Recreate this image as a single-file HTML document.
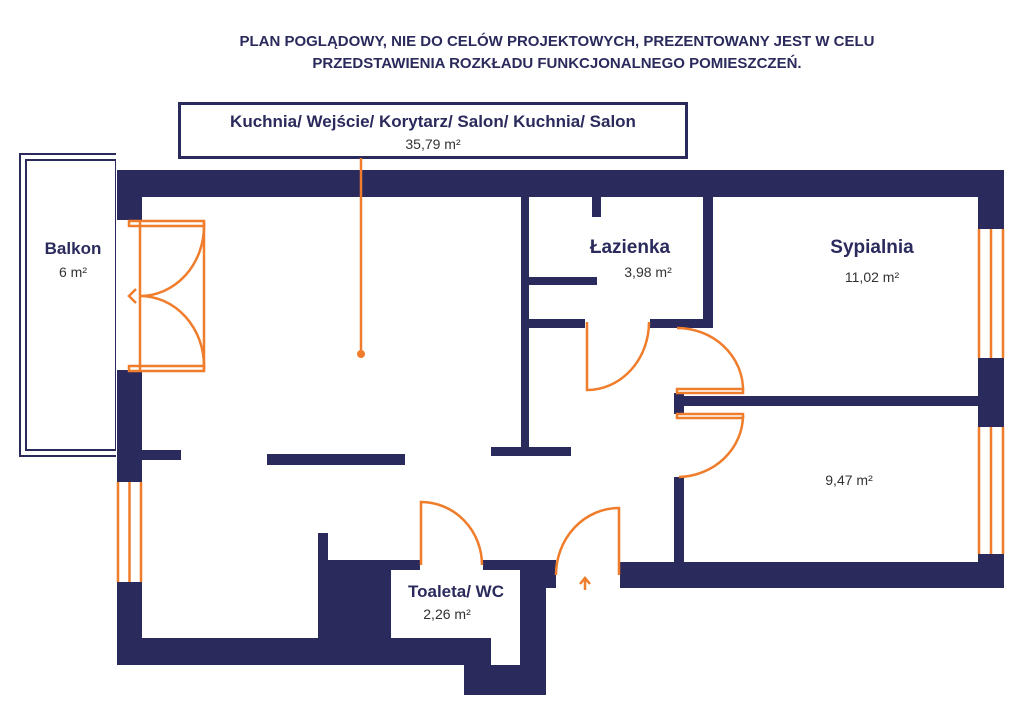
<!DOCTYPE html>
<html><head><meta charset="utf-8"><style>
html,body{margin:0;padding:0;background:#fff;}
svg{display:block;}
text{font-family:"Liberation Sans",sans-serif;fill:#2b2a5c;}
</style></head><body>
<svg width="1024" height="724" viewBox="0 0 1024 724" xmlns="http://www.w3.org/2000/svg">
<g fill="#2b2a5c">
<text x="557" y="46" font-size="15" font-weight="bold" text-anchor="middle">PLAN POGLĄDOWY, NIE DO CELÓW PROJEKTOWYCH, PREZENTOWANY JEST W CELU</text>
<text x="557" y="68" font-size="15" font-weight="bold" text-anchor="middle">PRZEDSTAWIENIA ROZKŁADU FUNKCJONALNEGO POMIESZCZEŃ.</text>
</g>
<rect x="179.5" y="103.5" width="507" height="54" fill="#fff" stroke="#2b2a5c" stroke-width="3"/>
<text x="433" y="127" font-size="17" font-weight="bold" text-anchor="middle">Kuchnia/ Wejście/ Korytarz/ Salon/ Kuchnia/ Salon</text>
<text x="433" y="149" font-size="14" text-anchor="middle" style="fill:#333">35,79 m²</text>

<!-- balcony -->
<rect x="20" y="154" width="100" height="302" fill="none" stroke="#2b2a5c" stroke-width="2"/>
<rect x="26" y="160" width="90" height="290" fill="none" stroke="#2b2a5c" stroke-width="2"/>
<rect x="116" y="150" width="8" height="310" fill="#fff"/>

<g fill="#2b2a5c">
<!-- outer walls -->
<rect x="117" y="170" width="887" height="27"/>
<rect x="117" y="170" width="25" height="50"/>
<rect x="117" y="370" width="25" height="112"/>
<rect x="117" y="582" width="25" height="83"/>
<rect x="117" y="638" width="300" height="27"/>
<rect x="318" y="560" width="73" height="105"/>
<rect x="318" y="533" width="10" height="30"/>
<rect x="328" y="560" width="92" height="10"/>
<rect x="483" y="560" width="73" height="10"/>
<rect x="546" y="560" width="10" height="28"/>
<rect x="520" y="560" width="26" height="135"/>
<rect x="391" y="638" width="100" height="27"/>
<rect x="464" y="665" width="82" height="30"/>
<rect x="620" y="562" width="384" height="26"/>
<rect x="978" y="170" width="26" height="59"/>
<rect x="978" y="358" width="26" height="69"/>
<rect x="978" y="554" width="26" height="34"/>
<!-- interior -->
<rect x="142" y="450" width="39" height="10"/>
<rect x="267" y="454" width="138" height="11"/>
<rect x="491" y="447" width="80" height="9"/>
<rect x="521" y="197" width="8" height="258"/>
<rect x="592" y="197" width="9" height="20"/>
<rect x="529" y="277" width="68" height="8"/>
<rect x="529" y="319" width="56" height="9"/>
<rect x="650" y="319" width="63" height="9"/>
<rect x="703" y="197" width="10" height="131"/>
<rect x="674" y="396" width="304" height="10"/>
<rect x="674" y="393" width="10" height="21"/>
<rect x="674" y="477" width="10" height="85"/>
</g>

<g fill="none" stroke="#ef7d2b" stroke-width="2.5">
<!-- windows -->
<line x1="118" y1="482" x2="118" y2="582"/><line x1="129.5" y1="482" x2="129.5" y2="582"/><line x1="141" y1="482" x2="141" y2="582"/>
<line x1="979" y1="229" x2="979" y2="358"/><line x1="991" y1="229" x2="991" y2="358"/><line x1="1003" y1="229" x2="1003" y2="358"/>
<line x1="979" y1="427" x2="979" y2="554"/><line x1="991" y1="427" x2="991" y2="554"/><line x1="1003" y1="427" x2="1003" y2="554"/>
<!-- balcony door -->
<rect x="129" y="221" width="75" height="5"/>
<rect x="129" y="366" width="75" height="5"/>
<line x1="140" y1="222" x2="140" y2="370"/>
<line x1="204" y1="222" x2="204" y2="370"/>
<path d="M204 226 A 64 70 0 0 1 140 296 A 64 70 0 0 1 204 366"/>
<path d="M136 289 L129 296 L136 303"/>
<!-- pointer -->
<line x1="361" y1="158" x2="361" y2="354"/>
<!-- bathroom door -->
<path d="M587 322 L587 390 A 62 68 0 0 0 649 322"/>
<!-- bedroom doors -->
<rect x="677" y="389" width="66" height="4"/>
<path d="M677 328 A 66 62 0 0 1 743 390"/>
<rect x="677" y="414" width="66" height="4"/>
<path d="M743 416 A 66 62 0 0 1 679 477"/>
<!-- toilet door -->
<path d="M421 565 L421 502 A 61 63 0 0 1 482 565"/>
<!-- entrance door -->
<path d="M619 575 L619 508 A 63 67 0 0 0 556 575"/>
<path d="M585 590 L585 579 M580 584 L585 578 L590 584"/>
</g>
<circle cx="361" cy="354" r="4" fill="#ef7d2b"/>

<text x="73" y="254" font-size="17" font-weight="bold" text-anchor="middle">Balkon</text>
<text x="73" y="277" font-size="14" text-anchor="middle" style="fill:#333">6 m²</text>
<text x="630" y="253" font-size="19" font-weight="bold" text-anchor="middle">Łazienka</text>
<text x="648" y="277" font-size="14" text-anchor="middle" style="fill:#333">3,98 m²</text>
<text x="872" y="253" font-size="19" font-weight="bold" text-anchor="middle">Sypialnia</text>
<text x="872" y="282" font-size="14" text-anchor="middle" style="fill:#333">11,02 m²</text>
<text x="849" y="485" font-size="14" text-anchor="middle" style="fill:#333">9,47 m²</text>
<text x="456" y="597" font-size="17" font-weight="bold" text-anchor="middle">Toaleta/ WC</text>
<text x="447" y="619" font-size="14" text-anchor="middle" style="fill:#333">2,26 m²</text>
</svg>
</body></html>
